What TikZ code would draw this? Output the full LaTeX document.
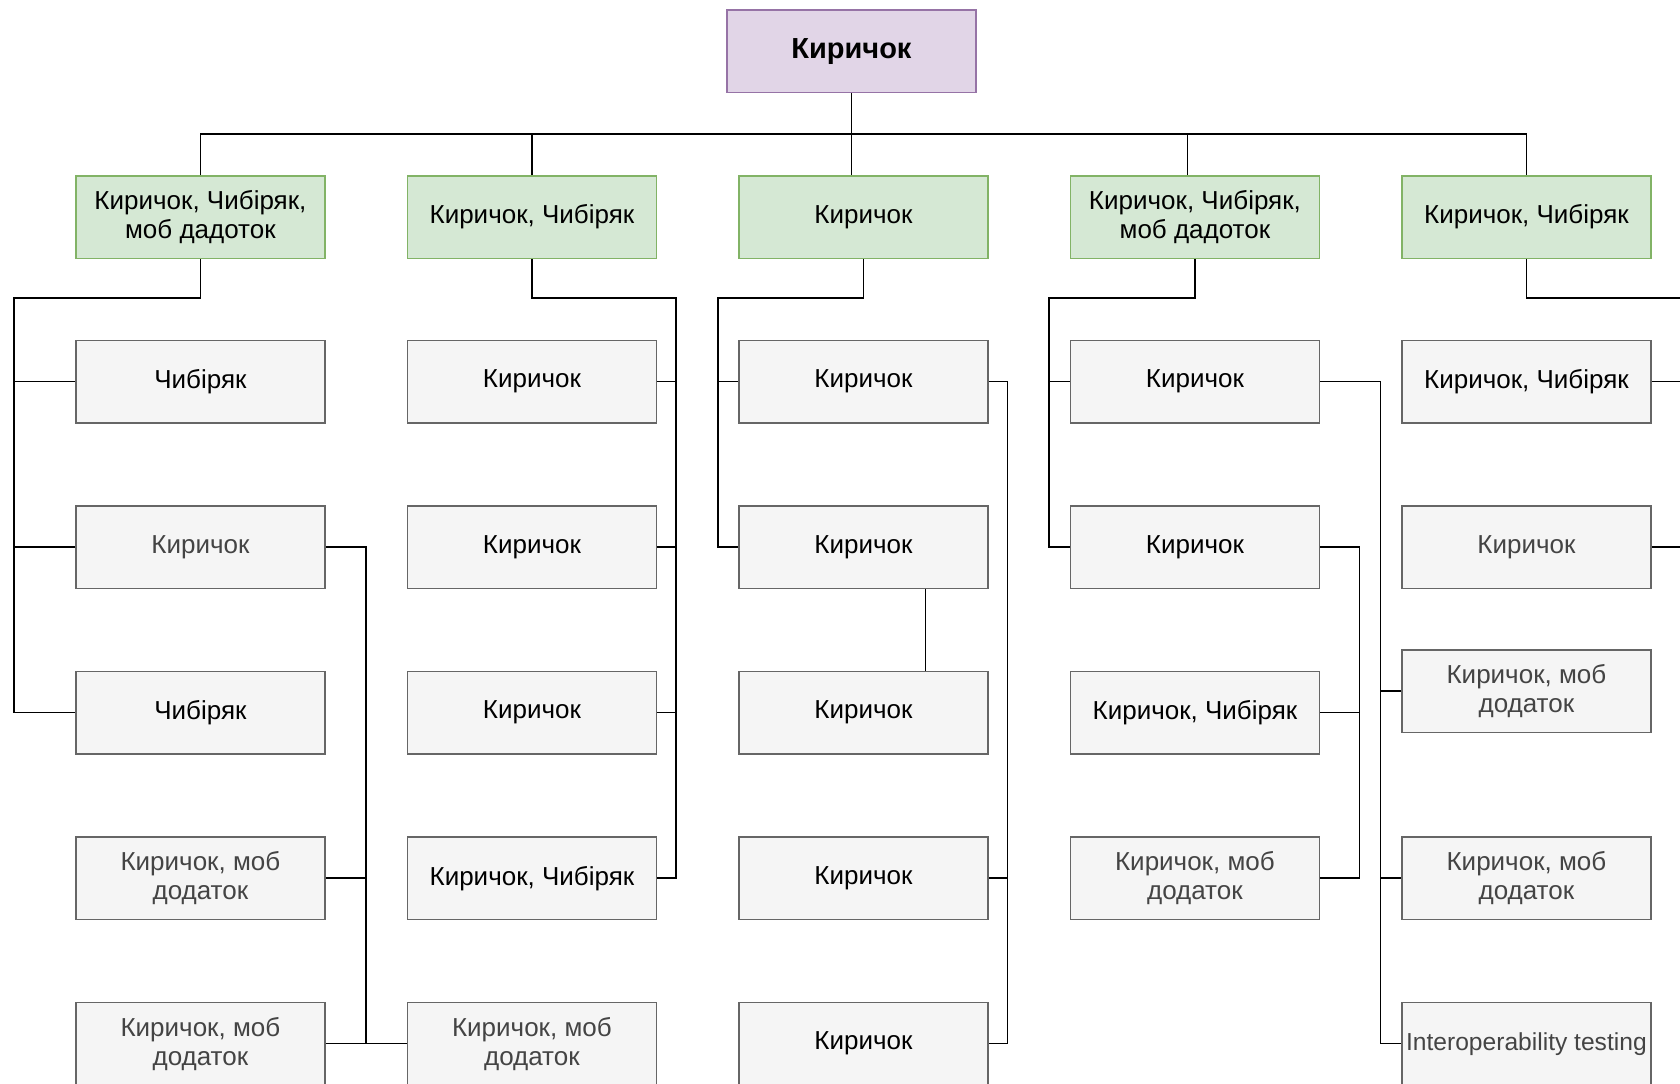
\documentclass[tikz,border=0pt]{standalone}
\usepackage{fontspec}
\setmainfont{Liberation Sans}
\usetikzlibrary{calc}
\definecolor{gfill}{HTML}{F5F5F5}
\definecolor{gdraw}{HTML}{666666}
\definecolor{nfill}{HTML}{D5E8D4}
\definecolor{ndraw}{HTML}{82B366}
\definecolor{pfill}{HTML}{E1D5E7}
\definecolor{pdraw}{HTML}{9673A6}
\definecolor{gtext}{HTML}{444444}
\tikzset{
  basebox/.style={rectangle, anchor=north west, minimum width=124.5pt, minimum height=41.25pt,
    inner sep=0.5pt, align=center, line width=0.9pt, font=\fontsize{13}{14.5}\selectfont},
  graybox/.style={basebox, fill=gfill, draw=gdraw, text=black},
  graytxt/.style={graybox, text=gtext},
  greenbox/.style={basebox, fill=nfill, draw=ndraw, text=black},
  rootbox/.style={basebox, fill=pfill, draw=pdraw, text=black, font=\fontsize{14.5}{16}\selectfont\bfseries},
  conn/.style={draw=black, line width=0.7pt}
}
\begin{document}
\begin{tikzpicture}[x=0.5pt, y=-0.5pt]
\useasboundingbox (0,0) rectangle (1680,1083);
\clip (0,0) rectangle (1680,1083);
\fill[white] (0,0) rectangle (1680,1083);

% root
\node[rootbox] (root) at (726,9) {Киричок};

% level 1
\node[greenbox] (g1) at (75,175) {Киричок, Чибіряк,\\моб дадоток};
\node[greenbox] (g2) at (406.5,175) {Киричок, Чибіряк};
\node[greenbox] (g3) at (738,175) {Киричок};
\node[greenbox] (g4) at (1069.5,175) {Киричок, Чибіряк,\\моб дадоток};
\node[greenbox] (g5) at (1401,175) {Киричок, Чибіряк};

% column 1
\node[graybox] (r1c1) at (75,339.5) {Чибіряк};
\node[graytxt] (r2c1) at (75,505) {Киричок};
\node[graybox] (r3c1) at (75,670.5) {Чибіряк};
\node[graytxt] (r4c1) at (75,836) {Киричок, моб\\додаток};
\node[graytxt] (r5c1) at (75,1001.5) {Киричок, моб\\додаток};

% column 2
\node[graybox] (r1c2) at (406.5,339.5) {Киричок};
\node[graybox] (r2c2) at (406.5,505) {Киричок};
\node[graybox] (r3c2) at (406.5,670.5) {Киричок};
\node[graybox] (r4c2) at (406.5,836) {Киричок, Чибіряк};
\node[graytxt] (r5c2) at (406.5,1001.5) {Киричок, моб\\додаток};

% column 3
\node[graybox] (r1c3) at (738,339.5) {Киричок};
\node[graybox] (r2c3) at (738,505) {Киричок};
\node[graybox] (r3c3) at (738,670.5) {Киричок};
\node[graybox] (r4c3) at (738,836) {Киричок};
\node[graybox] (r5c3) at (738,1001.5) {Киричок};

% column 4
\node[graybox] (r1c4) at (1069.5,339.5) {Киричок};
\node[graybox] (r2c4) at (1069.5,505) {Киричок};
\node[graybox] (r3c4) at (1069.5,670.5) {Киричок, Чибіряк};
\node[graytxt] (r4c4) at (1069.5,836) {Киричок, моб\\додаток};

% column 5
\node[graybox] (r1c5) at (1401,339.5) {Киричок, Чибіряк};
\node[graytxt] (r2c5) at (1401,505) {Киричок};
\node[graytxt] (r3c5) at (1401,649) {Киричок, моб\\додаток};
\node[graytxt] (r4c5) at (1401,836) {Киричок, моб\\додаток};
\node[graytxt, font=\fontsize{12.3}{14}\selectfont] (r5c5) at (1401,1001.5) {Interoperability testing};

% coordinates
\coordinate (bus) at (0,134);
\coordinate (l1) at (14,298);
\coordinate (b1) at (366,0);
\coordinate (b2) at (676,298);
\coordinate (l3) at (718,298);
\coordinate (b3) at (1007.5,0);
\coordinate (l4) at (1049,298);
\coordinate (b4) at (1380.5,0);
\coordinate (b5) at (1359.5,0);
\coordinate (edge) at (1680,298);
\coordinate (g4t) at ($(g4.north)+(-7.5,0)$);

% top level connectors
\draw[conn] (root.south) -- (root.south |- g3.north);
\draw[conn] (g1.north) |- (g5.north |- bus) -- (g5.north);
\draw[conn] (g2.north) -- (g2.north |- bus);
\draw[conn] (g4t) -- (g4t |- bus);

% column 1
\draw[conn] (g1.south) |- (l1) |- (r3c1.west);
\draw[conn] (l1 |- r1c1.west) -- (r1c1.west);
\draw[conn] (l1 |- r2c1.west) -- (r2c1.west);
\draw[conn] (r2c1.east) -| (b1 |- r5c1.east);
\draw[conn] (r5c1.east) -- (r5c2.west);
\draw[conn] (r4c1.east) -- (b1 |- r4c1.east);

% column 2
\draw[conn] (g2.south) |- (b2) |- (r4c2.east);
\draw[conn] (b2 |- r1c2.east) -- (r1c2.east);
\draw[conn] (b2 |- r2c2.east) -- (r2c2.east);
\draw[conn] (b2 |- r3c2.east) -- (r3c2.east);

% column 3
\draw[conn] (g3.south) |- (l3) |- (r2c3.west);
\draw[conn] (l3 |- r1c3.west) -- (r1c3.west);
\draw[conn] (r1c3.east) -| (b3 |- r5c3.east) -- (r5c3.east);
\draw[conn] (b3 |- r4c3.east) -- (r4c3.east);
\draw[conn] ($(r2c3.south)+(62,0)$) -- ($(r3c3.north)+(62,0)$);

% column 4
\draw[conn] (g4.south) |- (l4) |- (r2c4.west);
\draw[conn] (l4 |- r1c4.west) -- (r1c4.west);
\draw[conn] (r1c4.east) -| (b4 |- r5c5.west) -- (r5c5.west);
\draw[conn] (b4 |- r3c5.west) -- (r3c5.west);
\draw[conn] (b4 |- r4c5.west) -- (r4c5.west);
\draw[conn] (r2c4.east) -| (b5 |- r4c4.east) -- (r4c4.east);
\draw[conn] (b5 |- r3c4.east) -- (r3c4.east);

% column 5
\draw[conn] (g5.south) |- (edge);
\draw[conn] (r1c5.east) -- (r1c5.east -| edge);
\draw[conn] (r2c5.east) -- (r2c5.east -| edge);
\end{tikzpicture}
\end{document}
